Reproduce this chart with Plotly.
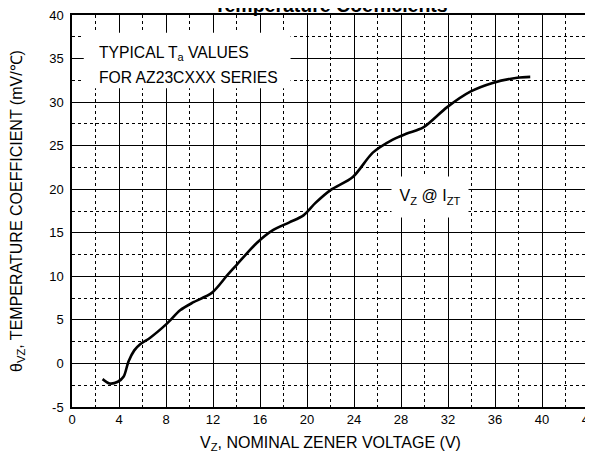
import plotly.graph_objects as go

vz = [2.6, 3.2, 3.9, 4.4, 4.8, 5.3, 5.8, 6.6, 8.1, 9.2, 10.3, 11.9, 13.2, 14.0, 15.7,
      17.1, 18.5, 19.7, 20.7, 22.0, 23.9, 25.6, 27.3, 28.5, 29.9, 31.9, 33.9, 35.8, 37.9, 39.0]
tc = [-1.8, -2.3, -2.1, -1.5, 0.2, 1.5, 2.2, 2.9, 4.6, 6.1, 7.0, 8.1, 10.1, 11.3, 13.8,
      15.3, 16.2, 17.0, 18.4, 19.9, 21.4, 24.2, 25.7, 26.4, 27.1, 29.4, 31.2, 32.2, 32.8, 32.9]

x_ticks = list(range(0, 45, 4))
y_ticks = list(range(-5, 41, 5))
x_minor = list(range(2, 45, 4))
y_minor = [-2.5 + 5 * i for i in range(9)]

FONT = "Liberation Sans, Arial, sans-serif"

fig = go.Figure()
fig.add_trace(go.Scatter(x=vz, y=tc, mode="lines",
                         line=dict(color="black", width=2.6, shape="spline", smoothing=0.8),
                         hoverinfo="skip", showlegend=False))

fig.update_layout(
    width=585, height=452,
    margin=dict(l=64, r=4, t=7, b=53, autoexpand=False),
    paper_bgcolor="white", plot_bgcolor="white",
    font=dict(family=FONT, size=13, color="black"),
    showlegend=False,
)
fig.update_xaxes(range=[0, 44], tickvals=x_ticks, ticktext=[str(v) for v in x_ticks],
                 showgrid=True, gridcolor="black", gridwidth=1,
                 minor=dict(tickvals=x_minor, showgrid=True, gridcolor="black", griddash="dot", gridwidth=1),
                 showline=True, linecolor="black", linewidth=1.5, mirror=True,
                 zeroline=False, ticks="", ticklen=0, automargin=False,
                 ticklabeloverflow="allow",
                 tickfont=dict(size=13, family=FONT),
                 title=dict(text="V<sub>Z</sub>, NOMINAL ZENER VOLTAGE (V)", font=dict(size=16, family=FONT), standoff=10))
fig.update_yaxes(range=[-5, 40], tickvals=y_ticks, ticktext=[str(v) for v in y_ticks],
                 showgrid=True, gridcolor="black", gridwidth=1,
                 minor=dict(tickvals=y_minor, showgrid=True, gridcolor="black", griddash="dot", gridwidth=1),
                 showline=True, linecolor="black", linewidth=1.5, mirror=True,
                 zeroline=False, ticks="", ticklen=0, automargin=False,
                 ticklabelstandoff=4, ticklabeloverflow="allow",
                 tickfont=dict(size=13, family=FONT),
                 title=dict(text="θ<sub>VZ</sub>, TEMPERATURE COEFFICIENT (mV/℃)", font=dict(size=16, family=FONT), standoff=24))

# white background box for the note
fig.add_shape(type="rect", xref="x", yref="y", x0=1.0, x1=18.6, y0=31.6, y1=37.95,
              fillcolor="white", line=dict(width=0), layer="above")

fig.add_annotation(x=2.1, y=35.6, xref="x", yref="y", xanchor="left", yanchor="middle",
                   text="TYPICAL T<sub>a</sub> VALUES", showarrow=False,
                   font=dict(size=15.7, family=FONT, color="black"))
fig.add_annotation(x=2.1, y=32.8, xref="x", yref="y", xanchor="left", yanchor="middle",
                   text="FOR AZ23CXXX SERIES", showarrow=False,
                   font=dict(size=15.7, family=FONT, color="black"))

fig.add_annotation(x=30.45, y=19.1, xref="x", yref="y", xanchor="center", yanchor="middle",
                   text="V<sub>Z</sub> @ I<sub>ZT</sub>", showarrow=False,
                   bgcolor="white", width=72, height=36, borderpad=2,
                   font=dict(size=16, family=FONT, color="black"))

fig.add_annotation(x=0.5, y=1, xref="paper", yref="paper", xanchor="center", yanchor="bottom",
                   yshift=-3, text="<b>Temperature Coefficients</b>", showarrow=False,
                   font=dict(size=19.5, family=FONT, color="black"))

fig.write_html("out.html")
